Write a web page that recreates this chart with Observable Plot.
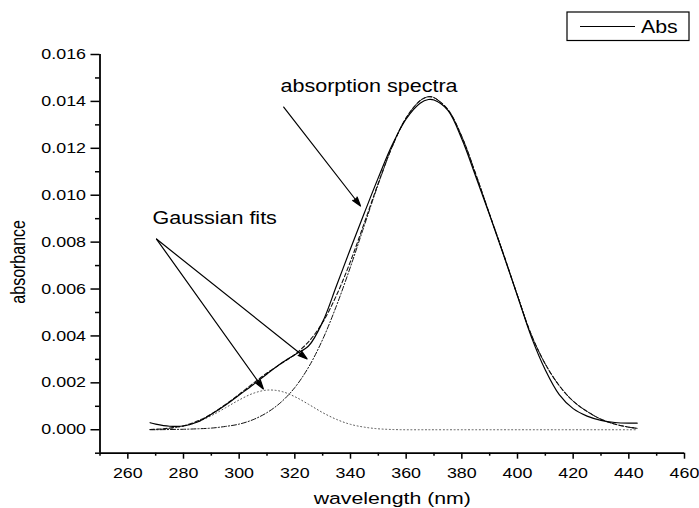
<!DOCTYPE html>
<html><head><meta charset="utf-8">
<script src="https://cdn.jsdelivr.net/npm/d3@7"></script>
<script src="https://cdn.jsdelivr.net/npm/@observablehq/plot@0.6"></script>
<style>
html,body{margin:0;padding:0;background:#fff;}
#chart{width:699px;height:508px;}
</style></head><body><div id="chart"></div>
<script>
// ---- data ----
const wavelength = [268,270,275,280,285,290,295,300,305,310,315,320,325,330,335,340,345,350,355,360,365,368,370,375,380,385,390,395,400,405,410,415,420,425,430,435,440,443];
const absorbance = [0.00030,0.00024,0.00015,0.00016,0.00033,0.00066,0.00104,0.00148,0.00192,0.00238,0.00282,0.00320,0.00358,0.00460,0.00615,0.00772,0.00925,0.01075,0.01215,0.01325,0.01392,0.01408,0.01406,0.01362,0.01240,0.01080,0.00915,0.00745,0.00570,0.00395,0.00255,0.00150,0.00090,0.00058,0.00040,0.00031,0.00028,0.00028];
const cumulativeFit = [0.00001,0.00002,0.00007,0.00017,0.00037,0.00067,0.00107,0.00151,0.00198,0.00242,0.00281,0.00321,0.00376,0.00458,0.00574,0.00718,0.00883,0.01052,0.01208,0.01330,0.01403,0.01420,0.01416,0.01365,0.01250,0.01090,0.00918,0.00748,0.00572,0.00404,0.00280,0.00188,0.00122,0.00078,0.00045,0.00024,0.00011,0.00006];
const gaussPeak1 = [0.00001,0.00002,0.00006,0.00015,0.00033,0.00060,0.00093,0.00127,0.00155,0.00169,0.00164,0.00141,0.00108,0.00073,0.00044,0.00023,0.00011,0.00004,0.00001,0,0,0,0,0,0,0,0,0,0,0,0,0,0,0,0,0,0,0];
const gaussPeak2 = [0.00000,0.00000,0.00001,0.00002,0.00004,0.00007,0.00014,0.00024,0.00043,0.00073,0.00117,0.00180,0.00268,0.00385,0.00530,0.00695,0.00872,0.01048,0.01207,0.01330,0.01403,0.01420,0.01416,0.01365,0.01250,0.01090,0.00918,0.00748,0.00572,0.00404,0.00280,0.00188,0.00122,0.00078,0.00045,0.00024,0.00011,0.00006];

const xDomain = [250, 460];
const yDomain = [-0.001, 0.016];
const xTicks = [260,280,300,320,340,360,380,400,420,440,460];
const xMinorTicks = [250,270,290,310,330,350,370,390,410,430,450];
const yTicks = [0,0.002,0.004,0.006,0.008,0.010,0.012,0.014,0.016];
const yMinorTicks = [-0.001,0.001,0.003,0.005,0.007,0.009,0.011,0.013,0.015];
const seriesNames = ["Abs"];
const xLabel = "wavelength (nm)";
const yLabel = "absorbance";

// annotations (data coordinates)
const noteLabels = ["absorption spectra", "Gaussian fits"];
const noteX = [314.85, 268.86];
const noteY = [0.01438, 0.008773];
const arrowX1 = [316.0, 270.3, 270.3];
const arrowY1 = [0.01376, 0.00813, 0.00813];
const arrowX2 = [343.6, 308.7, 324.4];
const arrowY2 = [0.00954, 0.00174, 0.00302];

// ---- build tables ----
const rows = wavelength.map((w, i) => ({wl: w, abs: absorbance[i], fit: cumulativeFit[i], p1: gaussPeak1[i], p2: gaussPeak2[i]}));
const notes = noteLabels.map((t, i) => ({text: t, x: noteX[i], y: noteY[i]}));
const arrows = arrowX1.map((d, i) => ({x1: arrowX1[i], y1: arrowY1[i], x2: arrowX2[i], y2: arrowY2[i]}));

const FONT = "'Liberation Sans', Arial, Helvetica, sans-serif";
const SX = 1.23;

const chart = Plot.plot({
  width: 699, height: 508,
  marginLeft: 99.5, marginRight: 15, marginTop: 54, marginBottom: 55.3,
  x: {domain: xDomain, label: null},
  y: {domain: yDomain, label: null},
  style: {fontFamily: FONT, fontSize: "14.5px", color: "#000", background: "#fff", overflow: "visible"},
  marks: [
    Plot.line(rows, {x: "wl", y: "p1", stroke: "#555", strokeWidth: 1, strokeDasharray: "1,2.6", curve: "catmull-rom"}),
    Plot.line(rows, {x: "wl", y: "p2", stroke: "#111", strokeWidth: 1, strokeDasharray: "5,2,1.2,2", curve: "catmull-rom"}),
    Plot.line(rows, {x: "wl", y: "fit", stroke: "#111", strokeWidth: 1.1, strokeDasharray: "4,2.5", curve: "catmull-rom"}),
    Plot.line(rows, {x: "wl", y: "abs", stroke: "#000", strokeWidth: 1.2, curve: "catmull-rom"}),
    Plot.arrow(arrows, {x1: "x1", y1: "y1", x2: "x2", y2: "y2", stroke: "#000", strokeWidth: 1.2, headLength: 12, headAngle: 34}),
    Plot.text(notes, {x: "x", y: "y", text: "text", textAnchor: "start", lineAnchor: "bottom", fontSize: 17.5, fill: "#000"}),
    Plot.axisX({ticks: xTicks, tickSize: 6, tickPadding: 8, label: null, strokeWidth: 1.5, tickFormat: d => String(d)}),
    Plot.axisX({ticks: xMinorTicks, tickSize: 3, label: null, strokeWidth: 1.5, tickFormat: () => ""}),
    Plot.axisY({ticks: yTicks, tickSize: 9, tickPadding: 5, label: null, strokeWidth: 1.5, tickFormat: d3.format(".3f")}),
    Plot.axisY({ticks: yMinorTicks, tickSize: 4.5, label: null, strokeWidth: 1.5, tickFormat: () => ""}),
    Plot.ruleX([xDomain[0]], {stroke: "#000", strokeWidth: 1.8}),
    Plot.ruleY([yDomain[0]], {stroke: "#000", strokeWidth: 1.8}),
    Plot.text([xLabel], {text: d => d, frameAnchor: "bottom", textAnchor: "middle", dy: 50.5, lineAnchor: "bottom", fontSize: 17.3, fill: "#000"}),
    Plot.text([yLabel], {text: d => d, frameAnchor: "left", textAnchor: "middle", rotate: -90, dx: -75, dy: 8, lineAnchor: "bottom", fontSize: 16, fill: "#000"})
  ]
});

const svg = chart.tagName.toLowerCase() === "svg" ? chart : chart.querySelector("svg");

// filled arrowheads
svg.querySelectorAll('g[aria-label="arrow"] path').forEach(p => p.setAttribute("fill", "#000"));

// horizontally widened lettering as in the reference
svg.querySelectorAll("text").forEach(t => {
  let tr = t.getAttribute("transform") || "";
  const xa = t.getAttribute("x");
  if (xa !== null && xa !== "" && !isNaN(+xa)) { tr += ` translate(${+xa},0)`; t.removeAttribute("x"); }
  if (/rotate\(/.test(tr)) tr = tr.replace(/rotate\(/, `scale(${SX},1) rotate(`);
  else tr += ` scale(${SX},1)`;
  t.setAttribute("transform", tr.trim());
});

// legend box
const lg = d3.select(svg).append("g").attr("font-family", FONT);
lg.append("rect").attr("x", 567).attr("y", 12).attr("width", 122).attr("height", 28.5)
  .attr("fill", "#fff").attr("stroke", "#000").attr("stroke-width", 1.2);
lg.append("line").attr("x1", 580).attr("x2", 635).attr("y1", 26.5).attr("y2", 26.5)
  .attr("stroke", "#000").attr("stroke-width", 1.1);
lg.append("text").attr("transform", `translate(641,33) scale(1.22,1)`).attr("font-size", 17.5)
  .attr("text-anchor", "start").attr("fill", "#000").text(seriesNames[0]);

document.getElementById("chart").appendChild(chart);
</script></body></html>
